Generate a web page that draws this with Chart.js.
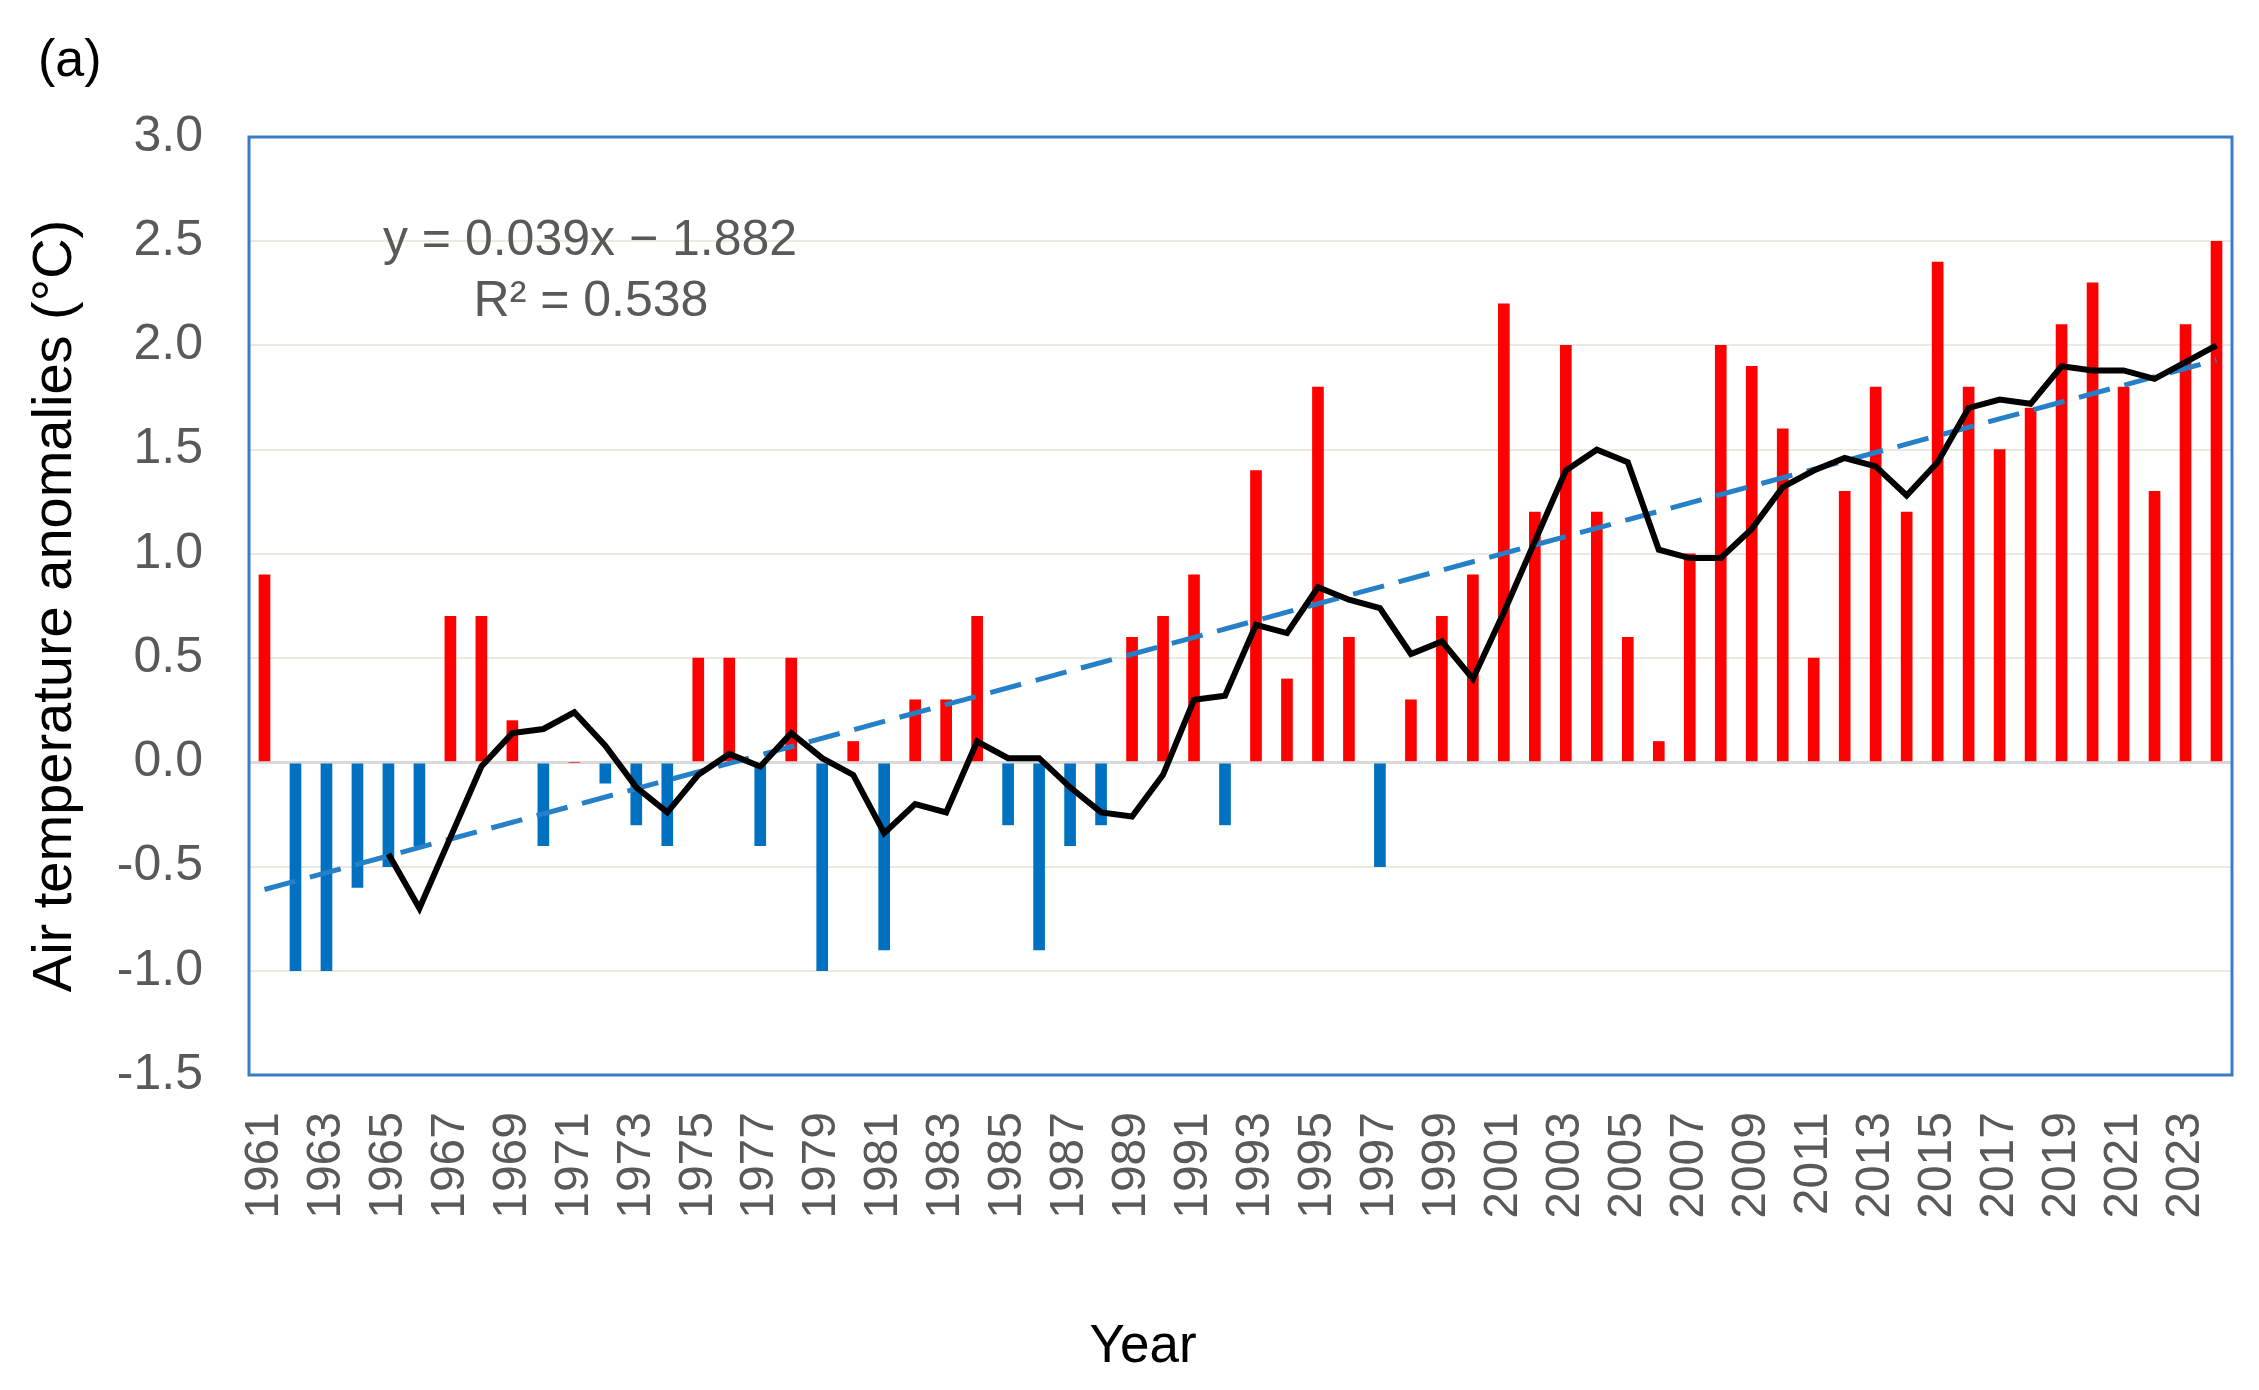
<!DOCTYPE html>
<html>
<head>
<meta charset="utf-8">
<script src="https://cdn.jsdelivr.net/npm/chart.js@4.4.1/dist/chart.umd.min.js"></script>
<style>
  html, body { margin: 0; padding: 0; background: #fff; }
  #wrap { width: 2259px; height: 1390px; }
</style>
</head>
<body>
<div id="wrap"><canvas id="chart" width="2259" height="1390"></canvas></div>
<script>
const years = [
  '1961','1962','1963','1964','1965','1966','1967','1968','1969','1970',
  '1971','1972','1973','1974','1975','1976','1977','1978','1979','1980',
  '1981','1982','1983','1984','1985','1986','1987','1988','1989','1990',
  '1991','1992','1993','1994','1995','1996','1997','1998','1999','2000',
  '2001','2002','2003','2004','2005','2006','2007','2008','2009','2010',
  '2011','2012','2013','2014','2015','2016','2017','2018','2019','2020',
  '2021','2022','2023','2024'
];

// yearly anomaly bars
const anomaly = [
  0.9, -1.0, -1.0, -0.6, -0.5, -0.4, 0.7, 0.7, 0.2, -0.4,
  0.0, -0.1, -0.3, -0.4, 0.5, 0.5, -0.4, 0.5, -1.0, 0.1,
  -0.9, 0.3, 0.3, 0.7, -0.3, -0.9, -0.4, -0.3, 0.6, 0.7,
  0.9, -0.3, 1.4, 0.4, 1.8, 0.6, -0.5, 0.3, 0.7, 0.9,
  2.2, 1.2, 2.0, 1.2, 0.6, 0.1, 1.0, 2.0, 1.9, 1.6,
  0.5, 1.3, 1.8, 1.2, 2.4, 1.8, 1.5, 1.7, 2.1, 2.3,
  1.8, 1.3, 2.1, 2.5
];

// black smoothed line (5-year running mean)
const movingAvg = [
  null, null, null, null, -0.44, -0.70, -0.36, -0.02, 0.14, 0.16,
  0.24, 0.08, -0.12, -0.24, -0.06, 0.04, -0.02, 0.14, 0.02, -0.06,
  -0.34, -0.20, -0.24, 0.10, 0.02, 0.02, -0.12, -0.24, -0.26, -0.06,
  0.30, 0.32, 0.66, 0.62, 0.84, 0.78, 0.74, 0.52, 0.58, 0.40,
  0.72, 1.06, 1.40, 1.50, 1.44, 1.02, 0.98, 0.98, 1.12, 1.32,
  1.40, 1.46, 1.42, 1.28, 1.44, 1.70, 1.74, 1.72, 1.90, 1.88,
  1.88, 1.84, 1.92, 2.00
];

// dashed linear trend, end points
const trendYears = ['1961', '2024'];
const trendValues = [-0.61, 1.93];

const equationText = 'y = 0.039x \u2212 1.882';
const r2Text = 'R\u00b2 = 0.538';

const FONT = '"Liberation Sans", Arial, sans-serif';

const trendPoints = trendYears.map((y, i) => ({ x: y, y: trendValues[i] }));

const annot = {
  id: 'annot',
  afterDraw(chart) {
    const { ctx, chartArea: a } = chart;
    ctx.save();
    ctx.strokeStyle = '#3a7cc4';
    ctx.lineWidth = 3;
    ctx.strokeRect(a.left, a.top, a.right - a.left, a.bottom - a.top);

    ctx.textBaseline = 'alphabetic';
    ctx.fillStyle = '#000';
    ctx.font = '52px ' + FONT;
    ctx.textAlign = 'left';
    ctx.fillText('(a)', 38, 76);

    ctx.fillStyle = '#595959';
    ctx.font = '50px ' + FONT;
    ctx.textAlign = 'center';
    ctx.fillText(equationText, 590, 255);
    ctx.fillText(r2Text, 591, 316);

    ctx.fillStyle = '#000';
    ctx.font = '53px ' + FONT;
    ctx.fillText('Year', 1143, 1362);
    ctx.restore();
  }
};

new Chart(document.getElementById('chart'), {
  type: 'bar',
  data: {
    labels: years,
    datasets: [
      {
        type: 'line',
        label: 'Moving average',
        data: movingAvg,
        borderColor: '#000',
        borderWidth: 6,
        pointRadius: 0,
        tension: 0,
        fill: false,
        order: 0
      },
      {
        type: 'line',
        label: 'Linear trend',
        data: trendPoints,
        borderColor: '#2680c8',
        borderWidth: 5,
        borderDash: [32, 15],
        pointRadius: 0,
        fill: false,
        order: 1
      },
      {
        label: 'Anomaly',
        data: anomaly,
        backgroundColor: anomaly.map(v => v < 0 ? '#0070c0' : '#ff0000'),
        barThickness: 11,
        order: 2
      }
    ]
  },
  options: {
    responsive: false,
    animation: false,
    devicePixelRatio: 1,
    layout: { padding: { top: 137, right: 27, left: 0, bottom: 0 } },
    plugins: {
      legend: { display: false },
      tooltip: { enabled: false }
    },
    scales: {
      x: {
        grid: { display: false, drawTicks: false },
        border: { display: false },
        ticks: {
          autoSkip: false,
          maxRotation: 90,
          minRotation: 90,
          padding: 37,
          color: '#595959',
          font: { family: FONT, size: 48 },
          callback: function (v, i) { return i % 2 === 0 ? this.getLabelForValue(v) : ''; }
        },
        afterFit: s => { s.height = 315; s.paddingRight = 0; s.paddingLeft = 0; }
      },
      y: {
        min: -1.5,
        max: 3.0,
        ticks: {
          stepSize: 0.5,
          padding: 46,
          color: '#595959',
          font: { family: FONT, size: 50 },
          callback: v => v.toFixed(1)
        },
        grid: {
          color: c => Math.abs(c.tick.value) < 1e-9 ? '#d9d9d9' : '#ece9e0',
          lineWidth: c => Math.abs(c.tick.value) < 1e-9 ? 3 : 2,
          drawTicks: false
        },
        border: { display: false },
        title: {
          display: true,
          text: 'Air temperature anomalies (\u00b0C)',
          color: '#000',
          font: { family: FONT, size: 56 },
          padding: { top: 22, bottom: 0 }
        },
        afterFit: s => { s.width = 249; }
      }
    }
  },
  plugins: [annot]
});
</script>
</body>
</html>
